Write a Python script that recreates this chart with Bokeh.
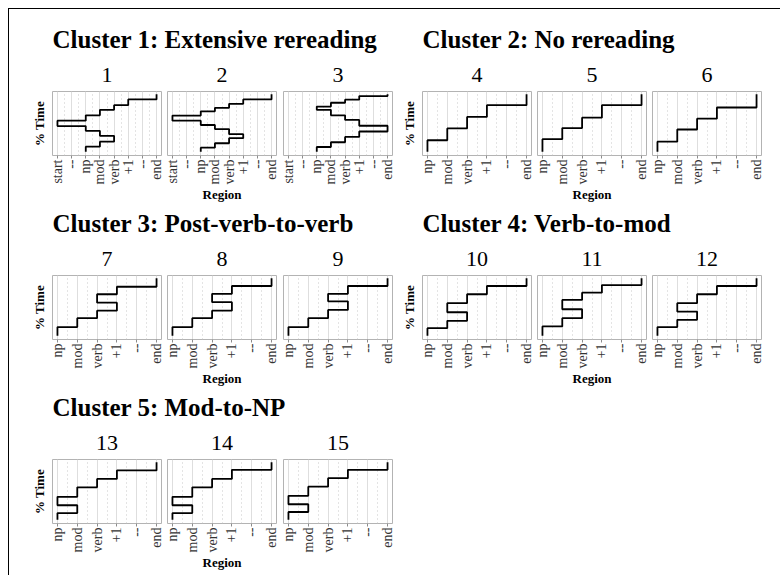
import math
from bokeh.plotting import figure
from bokeh.layouts import row, column
from bokeh.models import FixedTicker, Range1d, Spacer
from bokeh.core.properties import value
from bokeh.embed import file_html
from bokeh.resources import INLINE

# ---------------- data ----------------
cluster_titles = [
    "Cluster 1: Extensive rereading",
    "Cluster 2: No rereading",
    "Cluster 3: Post-verb-to-verb",
    "Cluster 4: Verb-to-mod",
    "Cluster 5: Mod-to-NP",
]
regions_long = ["start", "--", "np", "mod", "verb", "+1", "--", "end"]
regions_short = ["np", "mod", "verb", "+1", "--", "end"]

# visit sequence (region read in turn) and cumulative % time levels
p1_visits = ["np", "mod", "verb", "mod", "np", "start", "np", "mod", "verb", "+1", "end"]
p1_levels = [0, 8.8, 17.6, 27.7, 36.5, 44.8, 54.1, 63.5, 73.0, 81.1, 91.2, 100]
p2_visits = ["np", "mod", "verb", "+1", "verb", "mod", "np", "start", "np", "mod", "verb", "+1", "end"]
p2_levels = [0, 7.1, 14.8, 23.6, 30.7, 39.5, 46.6, 54.1, 63.0, 70.5, 76.5, 83.6, 91.2, 100]
p3_visits = ["np", "mod", "verb", "+1", "end", "+1", "verb", "mod", "np", "mod", "verb", "+1", "end"]
p3_levels = [0, 8.3, 16.6, 25.9, 35.3, 45.3, 55.4, 63.5, 73.0, 78.8, 85.4, 90.7, 97.0, 100]

c2_visits = ["np", "mod", "verb", "+1", "end"]
p4_levels = [0, 20.1, 40.6, 60.7, 81.1, 100]
p5_levels = [0, 21.9, 41.3, 59.4, 81.1, 100]
p6_levels = [0, 17.6, 38.8, 57.7, 77.1, 100]

c3_visits = ["np", "mod", "verb", "+1", "verb", "+1", "end"]
p7_levels = [0, 15.1, 30.7, 43.8, 57.7, 72.3, 85.4, 100]
p8_levels = [0, 15.1, 30.7, 43.8, 58.5, 73.0, 86.7, 100]
p9_levels = [0, 15.1, 30.7, 45.0, 60.0, 73.0, 86.7, 100]

c4_visits = ["np", "mod", "verb", "mod", "verb", "+1", "end"]
p10_levels = [0, 13.3, 26.0, 41.0, 56.7, 72.3, 86.7, 100]
p11_levels = [0, 16.2, 30.7, 46.2, 62.4, 75.0, 88.4, 100]
p12_levels = [0, 15.1, 27.7, 42.1, 56.7, 72.3, 86.7, 100]

c5_visits = ["np", "mod", "np", "mod", "verb", "+1", "end"]
p13_levels = [0, 11.7, 25.3, 40.0, 56.5, 71.2, 85.9, 100]
p14_levels = [0, 11.7, 25.3, 40.0, 56.5, 71.2, 87.0, 100]
p15_levels = [0, 13.5, 27.0, 41.8, 57.7, 72.4, 87.0, 100]

# ---------------- styling ----------------
SERIF = "Liberation Serif"
FRAME_W, FRAME_H = 109, 64
TOP_B, BOT_B = 2, 54


def make_panel(labels, visits, levels, left_axis, region_label, bl, br):
    n = len(labels)
    pad = 0.05 * (n - 1)
    pos = {lab: i for i, lab in enumerate(labels) if lab != "--"}
    p = figure(frame_width=FRAME_W, frame_height=FRAME_H,
               x_range=Range1d(-pad, n - 1 + pad), y_range=Range1d(-6.5, 105),
               output_backend="svg", toolbar_location=None, title=None,
               min_border_left=bl, min_border_right=br,
               min_border_top=TOP_B, min_border_bottom=BOT_B,
               y_axis_location="left" if left_axis else None)
    p.background_fill_color = "white"
    p.border_fill_color = "white"
    p.outline_line_color = "#b3b3b3"
    p.outline_line_width = 1

    ticks = list(range(n))
    ax = p.xaxis[0]
    ax.ticker = FixedTicker(ticks=ticks)
    ax.major_label_overrides = {i: lab for i, lab in enumerate(labels)}
    ax.major_label_orientation = math.pi / 2
    ax.major_label_text_font = SERIF
    ax.major_label_text_font_size = "14px"
    ax.major_label_text_color = "#333333"
    ax.major_label_standoff = 1
    ax.major_tick_out = 3
    ax.major_tick_in = 0
    ax.major_tick_line_color = "#8c8c8c"
    ax.minor_tick_line_color = None
    ax.axis_line_color = None
    if region_label:
        ax.axis_label = "Region"
        ax.axis_label_text_font = SERIF
        ax.axis_label_text_font_style = "bold"
        ax.axis_label_text_font_size = "13px"
        ax.axis_label_text_color = "black"
        ax.axis_label_standoff = 0

    if left_axis:
        yax = p.yaxis[0]
        yax.ticker = FixedTicker(ticks=[])
        yax.axis_line_color = None
        yax.major_tick_line_color = None
        yax.minor_tick_line_color = None
        yax.major_tick_out = 0
        yax.major_label_standoff = 0
        yax.axis_label = "% Time"
        yax.axis_label_text_font = SERIF
        yax.axis_label_text_font_style = "bold"
        yax.axis_label_text_font_size = "13px"
        yax.axis_label_text_color = "black"
        yax.axis_label_standoff = 6

    p.xgrid.ticker = FixedTicker(ticks=ticks, minor_ticks=[i + 0.5 for i in range(n - 1)])
    p.xgrid.grid_line_color = "#dedede"
    p.xgrid.grid_line_width = 1
    p.xgrid.minor_grid_line_color = "#c8c8c8"
    p.xgrid.minor_grid_line_dash = "1 3"
    p.ygrid.visible = False

    xs, ys = [], []
    for i, r in enumerate(visits):
        xs += [pos[r], pos[r]]
        ys += [levels[i], levels[i + 1]]
    p.line(xs, ys, line_color="black", line_width=1.8)
    return p


def make_header(text, width, height, x0, numbers, centers):
    h = figure(width=width, height=height, x_range=Range1d(0, width), y_range=Range1d(0, height),
               x_axis_location=None, y_axis_location=None, toolbar_location=None,
               output_backend="svg", min_border=0, title=None)
    h.grid.visible = False
    h.outline_line_color = None
    h.background_fill_color = "white"
    h.border_fill_color = "white"
    # cluster title
    h.text(x=[x0], y=[50], text=[text], text_font=value(SERIF), text_font_style="bold",
           text_font_size="25px", text_baseline="alphabetic", text_align="left", text_color="black")
    # panel numbers, centred over each panel
    h.text(x=centers, y=[14.5] * len(numbers), text=numbers, text_font=value(SERIF),
           text_font_style="normal", text_font_size="22px", text_baseline="alphabetic",
           text_align="center", text_color="black")
    return h


def cluster_block(title, labels, panels_data, first_left, last_right, header_h, start_num):
    borders = [(first_left, 3), (3, 3), (4 if first_left > 30 else 3, last_right)]
    panels, centers = [], []
    x = 0
    for k, (visits, levels) in enumerate(panels_data):
        bl, br = borders[k]
        centers.append(x + bl + FRAME_W / 2)
        x += bl + FRAME_W + br
        panels.append(make_panel(labels, visits, levels,
                                 left_axis=(k == 0), region_label=(k == 1), bl=bl, br=br))
    numbers = [str(start_num + k) for k in range(len(panels_data))]
    header = make_header(title, x, header_h, first_left, numbers, centers)
    return column(header, row(*panels))


b1 = cluster_block(cluster_titles[0], regions_long,
                   [(p1_visits, p1_levels), (p2_visits, p2_levels), (p3_visits, p3_levels)],
                   43, 3, 80, 1)
b2 = cluster_block(cluster_titles[1], regions_short,
                   [(c2_visits, p4_levels), (c2_visits, p5_levels), (c2_visits, p6_levels)],
                   27, 10, 80, 4)
b3 = cluster_block(cluster_titles[2], regions_short,
                   [(c3_visits, p7_levels), (c3_visits, p8_levels), (c3_visits, p9_levels)],
                   43, 3, 64, 7)
b4 = cluster_block(cluster_titles[3], regions_short,
                   [(c4_visits, p10_levels), (c4_visits, p11_levels), (c4_visits, p12_levels)],
                   27, 10, 64, 10)
b5 = cluster_block(cluster_titles[4], regions_short,
                   [(c5_visits, p13_levels), (c5_visits, p14_levels), (c5_visits, p15_levels)],
                   43, 3, 64, 13)

content = column(row(b1, b2), row(b3, b4), row(b5))
top_line = Spacer(width=772, height=1, styles={"background-color": "#000000"})
left_line = Spacer(width=1, height=566, styles={"background-color": "#000000"})
framed = column(top_line, row(left_line, content))
root = column(Spacer(width=780, height=8), row(Spacer(width=8, height=560), framed))

open("out.html", "w").write(file_html(root, INLINE))
